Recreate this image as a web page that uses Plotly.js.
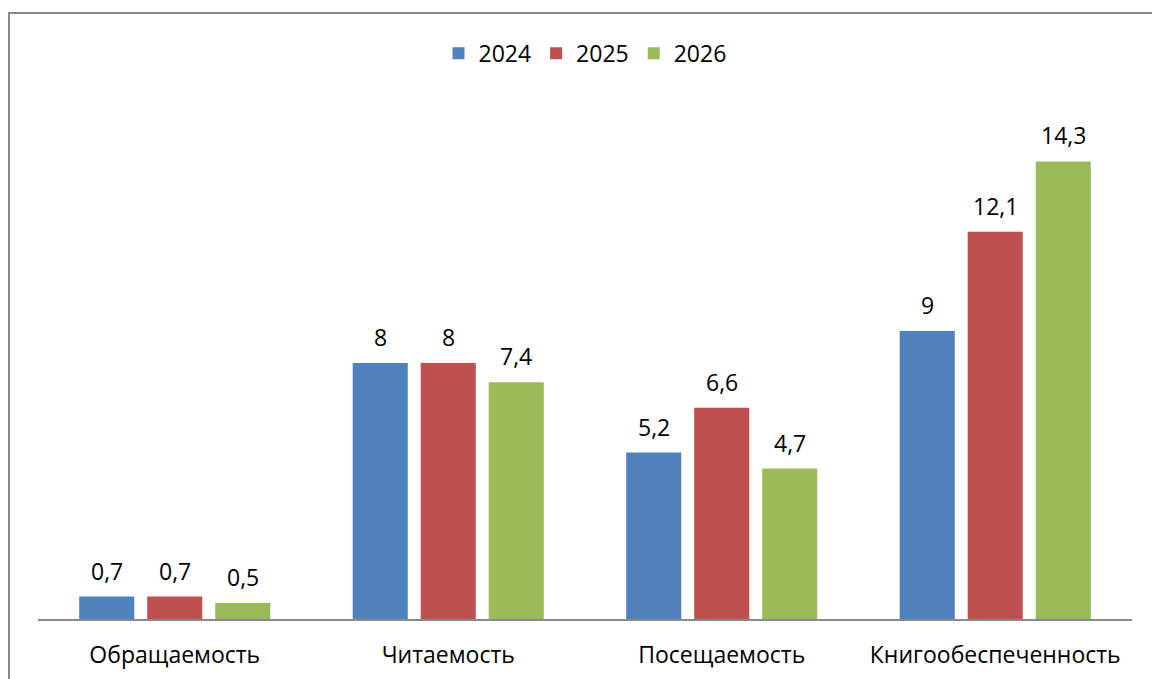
<!DOCTYPE html>
<html><head><meta charset="utf-8">
<script src="https://cdn.plot.ly/plotly-3.0.1.min.js"></script>
<style>
html,body{margin:0;padding:0;background:#fff;}
#frame{position:absolute;left:8px;top:12px;width:1200px;height:720px;border:2px solid #8a8a8a;box-sizing:border-box;pointer-events:none;}
#chart{position:absolute;left:0;top:0;width:1152px;height:679px;}
</style></head>
<body>
<div id="chart"></div>
<div id="frame"></div>
<script>
const categories = ["Обращаемость", "Читаемость", "Посещаемость", "Книгообеспеченность"];
const years = ["2024", "2025", "2026"];
const values2024 = [0.7, 8, 5.2, 9];
const values2025 = [0.7, 8, 6.6, 12.1];
const values2026 = [0.5, 7.4, 4.7, 14.3];
const colors = ["#4F81BD", "#C0504D", "#9BBB59"];

const series = [values2024, values2025, values2026];
const font = "'Open Sans', 'Noto Sans', sans-serif";

const traces = series.map((vals, i) => ({
  type: "bar",
  name: years[i],
  x: categories,
  y: vals,
  marker: {color: colors[i]},
  hoverinfo: "skip"
}));

const annotations = [];
series.forEach((vals, i) => {
  vals.forEach((v, j) => {
    annotations.push({
      x: categories[j], y: v, xref: "x", yref: "y",
      text: String(v).replace(".", ","),
      showarrow: false, yanchor: "bottom",
      xshift: (i - 1) * 68, yshift: 8,
      font: {family: font, size: 23, color: "#000"}
    });
  });
});

const layout = {
  width: 1152, height: 679,
  margin: {l: 38, r: 20, t: 107, b: 60},
  paper_bgcolor: "#fff", plot_bgcolor: "#fff",
  barmode: "group", bargap: 0.254, bargroupgap: 0.19,
  separators: ", ",
  showlegend: true,
  legend: {orientation: "h", x: 0.5, xanchor: "center", y: 1.105, yanchor: "middle",
           font: {family: font, size: 23, color: "#000"}, itemwidth: 30, traceorder: "normal"},
  xaxis: {type: "category", showline: true, linecolor: "#8a8a8a", linewidth: 2,
          ticks: "", ticklabelstandoff: 14, tickfont: {family: font, size: 23, color: "#000"}, showgrid: false, zeroline: false},
  yaxis: {range: [0, 16], visible: false, showgrid: false, zeroline: false},
  annotations: annotations
};

Plotly.newPlot("chart", traces, layout, {displayModeBar: false, staticPlot: true});
</script>
</body></html>
